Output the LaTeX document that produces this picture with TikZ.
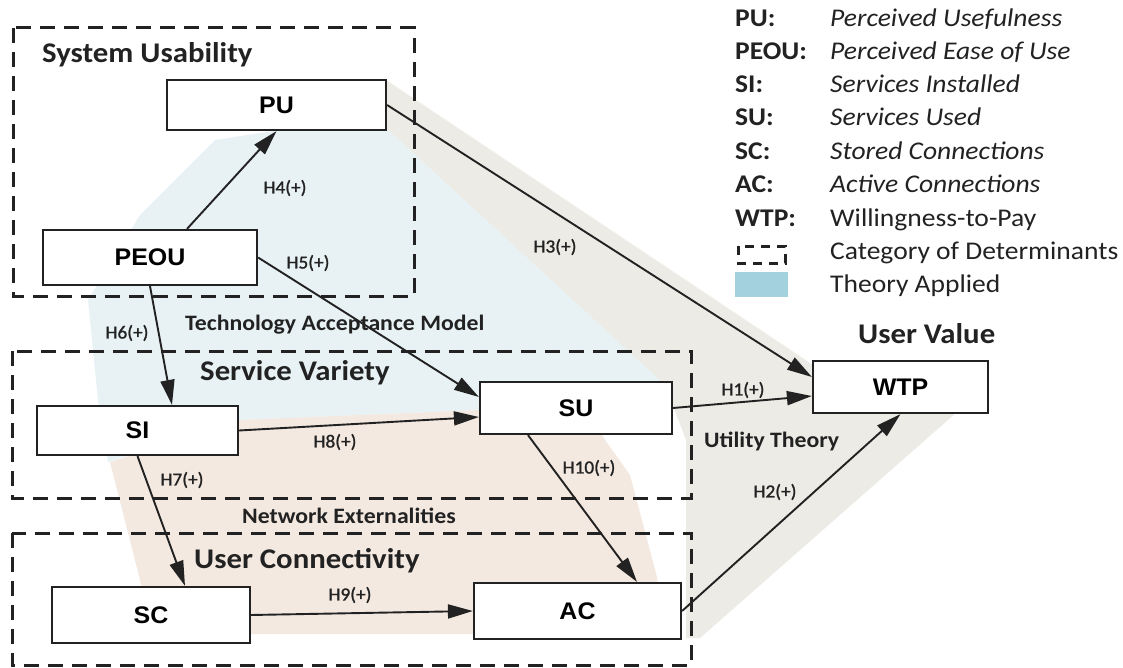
\documentclass[tikz,border=0pt]{standalone}
\usepackage{fontspec}
\setmainfont{Carlito}[FakeStretch=1.08]
\newfontfamily\arialf{Liberation Sans}[FakeStretch=1.04]
\newfontfamily\hypf{Carlito}[FakeStretch=1.04,FakeBold=1.2]
\usetikzlibrary{arrows.meta}
\definecolor{tamblue}{HTML}{E8F2F5}
\definecolor{netpeach}{HTML}{F3E9E1}
\definecolor{utilgray}{HTML}{ECEBE5}
\definecolor{swatchblue}{HTML}{A3D2DE}
\definecolor{ink}{HTML}{222222}
\begin{document}
\begin{tikzpicture}[x=1pt,y=-1pt,
  var/.style={draw=ink, line width=2.2pt, fill=white, inner sep=0pt,
    font=\arialf\bfseries\fontsize{24}{28}\selectfont},
  group/.style={draw=ink, line width=3pt, dash pattern=on 15pt off 9pt},
  arr/.style={draw=ink, line width=1.9pt, -{Triangle[length=25pt,width=14pt]}},
  hyp/.style={font=\hypf\fontsize{18.5}{22}\selectfont, text=ink, inner sep=0pt},
  grptitle/.style={font=\bfseries\fontsize{28.5}{33}\selectfont, anchor=base west, inner sep=0pt, text=ink},
  theory/.style={font=\bfseries\fontsize{22}{26}\selectfont, anchor=base west, inner sep=0pt, text=ink},
  abbr/.style={font=\bfseries\fontsize{25.5}{30}\selectfont, anchor=base west, inner sep=0pt, text=ink},
  desc/.style={font=\fontsize{25.5}{30}\selectfont, anchor=base west, inner sep=0pt, text=ink},
]
\fill[white] (0,0) rectangle (1123,668);
\useasboundingbox (0,0) rectangle (1123,668);

% theory areas
\fill[utilgray] (386,80) -- (813,365) -- (965,405) -- (700,638) -- (686,638) -- (686,440) -- (665,385) -- (386,128) -- cycle;
\fill[tamblue] (88,300) -- (98,400) -- (108,462) -- (238,420) -- (480,410) -- (600,425) -- (672,434) -- (665,385) -- (386,128) -- (280,130) -- (215,140) -- (140,215) -- cycle;
\fill[netpeach] (110,462) -- (238,420) -- (480,410) -- (590,412) -- (605,440) -- (630,475) -- (657,577) -- (662,634) -- (150,634) -- (140,580) -- cycle;

% category boxes
\draw[group] (13,28) rectangle (414,296);
\draw[group] (12,351) rectangle (691,498);
\draw[group] (12,533) rectangle (691,665);

\node[grptitle] (tSU) at (42,63) {System Usability};
\node[grptitle] (tSV) at (200,380) {Service Variety};
\node[grptitle] (tUC) at (194,568) {User Connectivity};
\node[grptitle] (tUV) at (858,343) {User Value};

\node[theory] (tTAM) at (185,330) {Technology Acceptance Model};
\node[theory] (tNE) at (242,523) {Network Externalities};
\node[theory] (tUT) at (704,447) {Utility Theory};

% variables
\node[var, minimum width=219pt, minimum height=50pt] (PU) at (276.5,105) {PU};
\node[var, minimum width=214pt, minimum height=55pt] (PEOU) at (150,257.5) {PEOU};
\node[var, minimum width=201pt, minimum height=49pt] (SI) at (137.5,430.5) {SI};
\node[var, minimum width=192pt, minimum height=52pt] (SU) at (576,408) {SU};
\node[var, minimum width=198pt, minimum height=56pt] (SC) at (151,615) {SC};
\node[var, minimum width=207pt, minimum height=56pt] (AC) at (577.5,611) {AC};
\node[var, minimum width=175pt, minimum height=52pt] (WTP) at (900.5,387) {WTP};

% hypotheses
\draw[arr] ([xshift=37pt]PEOU.north) -- (PU.south);
\draw[arr] (PU.east) -- ([yshift=10pt]WTP.west);
\draw[arr] (PEOU.east) -- ([yshift=11pt]SU.west);
\draw[arr] (PEOU.south) -- ([xshift=34.5pt]SI.north);
\draw[arr] (SI.south) -- ([xshift=34pt]SC.north);
\draw[arr] (SI.east) -- ([yshift=-9pt]SU.west);
\draw[arr] (SC.east) -- (AC.west);
\draw[arr] ([xshift=-48pt]SU.south) -- ([xshift=59.5pt]AC.north);
\draw[arr] (SU.east) -- ([yshift=-9pt]WTP.west);
\draw[arr] (AC.east) -- (WTP.south);

\node[hyp] (h4) at (285,188) {H4(+)};
\node[hyp] (h5) at (308,263) {H5(+)};
\node[hyp] (h3) at (555,247) {H3(+)};
\node[hyp] (h6) at (127,333) {H6(+)};
\node[hyp] (h8) at (335,442) {H8(+)};
\node[hyp] (h7) at (182,480) {H7(+)};
\node[hyp] (h10) at (589,468) {H10(+)};
\node[hyp] (h9) at (350,595) {H9(+)};
\node[hyp] (h1) at (743,390) {H1(+)};
\node[hyp] (h2) at (775,492) {H2(+)};

% legend
\node[abbr] (lPU) at (735,27) {PU:};
\node[desc] (dPU) at (830,27) {\itshape Perceived Usefulness};
\node[abbr] (lPEOU) at (735,60) {PEOU:};
\node[desc] (dPEOU) at (830,60) {\itshape Perceived Ease of Use};
\node[abbr] (lSI) at (735,93) {SI:};
\node[desc] (dSI) at (830,93) {\itshape Services Installed};
\node[abbr] (lSU) at (735,126) {SU:};
\node[desc] (dSU) at (830,126) {\itshape Services Used};
\node[abbr] (lSC) at (735,160) {SC:};
\node[desc] (dSC) at (830,160) {\itshape Stored Connections};
\node[abbr] (lAC) at (735,193) {AC:};
\node[desc] (dAC) at (830,193) {\itshape Active Connections};
\node[abbr] (lWTP) at (735,226) {WTP:};
\node[desc] (dWTP) at (830,226) {Willingness-to-Pay};
\draw[line width=3pt, draw=ink, dash pattern=on 9pt off 7pt] (738,246) rectangle (785,263);
\node[desc] (dCat) at (830,259) {Category of Determinants};
\fill[swatchblue] (735,272) rectangle (788,297);
\node[desc] (dTh) at (830,292) {Theory Applied};
\end{tikzpicture}
\end{document}
